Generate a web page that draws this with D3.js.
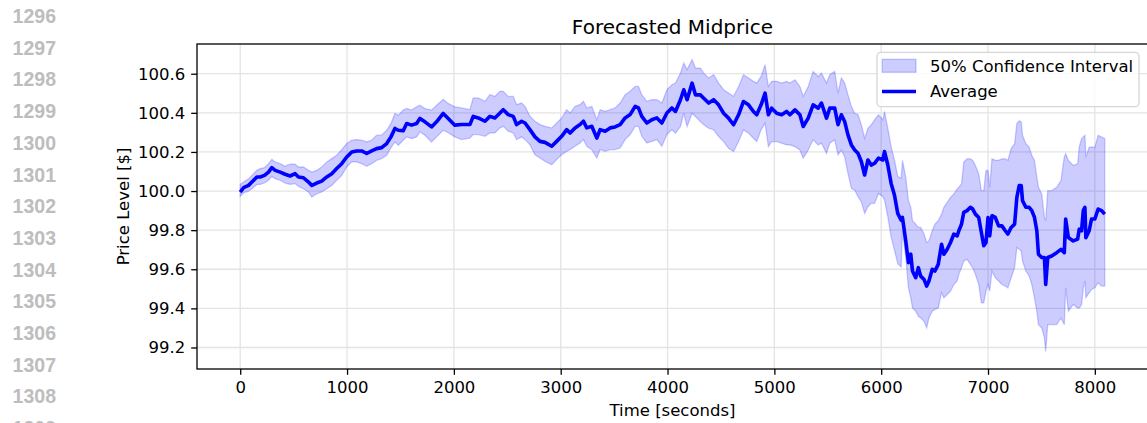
<!DOCTYPE html>
<html>
<head>
<meta charset="utf-8">
<script src="https://cdn.jsdelivr.net/npm/d3@7"></script>
<style>
  body { margin: 0; background: #fff; }
  svg { display: block; }
</style>
</head>
<body>
<script>
// editor gutter shown left of the figure
const gutterLabels = ['1296', '1297', '1298', '1299', '1300', '1301', '1302', '1303', '1304', '1305', '1306', '1307', '1308', '1309']

const xTicks = [0, 1000, 2000, 3000, 4000, 5000, 6000, 7000, 8000]
const yTicks = [99.2, 99.4, 99.6, 99.8, 100.0, 100.2, 100.4, 100.6]
const yLimits = [99.09, 100.752]

// time in seconds
const time = [
  0, 31, 78, 109, 156, 187, 227, 265, 296, 327, 374, 420, 467, 514, 545, 592, 639, 670, 716, 763,
  810, 857, 903, 950, 997, 1044, 1090, 1137, 1184, 1230, 1277, 1324, 1371, 1411, 1448, 1480, 1526, 1558, 1604, 1651,
  1682, 1729, 1791, 1838, 1900, 1947, 2009, 2072, 2150, 2181, 2228, 2291, 2337, 2384, 2431, 2462, 2509, 2556, 2587, 2634,
  2666, 2712, 2759, 2806, 2853, 2916, 2962, 3009, 3056, 3088, 3134, 3181, 3213, 3244, 3291, 3338, 3369, 3416, 3463, 3509,
  3556, 3603, 3650, 3697, 3728, 3759, 3806, 3853, 3900, 3947, 3994, 4041, 4074, 4121, 4152, 4183, 4230, 4261, 4307, 4339,
  4385, 4432, 4478, 4525, 4571, 4618, 4665, 4711, 4758, 4804, 4835, 4876, 4913, 4944, 4975, 5022, 5068, 5115, 5146, 5193,
  5239, 5270, 5317, 5363, 5410, 5441, 5488, 5519, 5565, 5596, 5627, 5658, 5689, 5721, 5752, 5783, 5814, 5845, 5876, 5907,
  5938, 5975, 6016, 6031, 6062, 6093, 6124, 6155, 6187, 6199, 6230, 6255, 6277, 6293, 6323, 6348, 6370, 6401, 6426, 6447,
  6478, 6503, 6534, 6565, 6587, 6618, 6649, 6680, 6711, 6727, 6752, 6773, 6804, 6835, 6857, 6882, 6913, 6938, 6960, 6981,
  7000, 7016, 7037, 7068, 7099, 7130, 7162, 7186, 7217, 7249, 7270, 7292, 7311, 7323, 7354, 7385, 7410, 7435, 7457, 7472,
  7503, 7528, 7540, 7559, 7596, 7643, 7683, 7714, 7727, 7752, 7798, 7839, 7854, 7876, 7892, 7907, 7916, 7947, 7969, 8000,
  8031, 8062, 8093
]

const avgPrice = [
  99.995, 100.017, 100.029, 100.046, 100.072, 100.072, 100.080, 100.097, 100.120, 100.106, 100.097, 100.086, 100.077, 100.089, 100.072, 100.068, 100.046, 100.029, 100.041, 100.051,
  100.072, 100.089, 100.115, 100.140, 100.174, 100.200, 100.205, 100.205, 100.192, 100.205, 100.217, 100.222, 100.243, 100.277, 100.320, 100.311, 100.308, 100.345, 100.337, 100.345,
  100.371, 100.354, 100.328, 100.354, 100.397, 100.371, 100.337, 100.340, 100.340, 100.382, 100.374, 100.357, 100.382, 100.374, 100.399, 100.416, 100.391, 100.382, 100.340, 100.357,
  100.348, 100.314, 100.277, 100.254, 100.249, 100.229, 100.254, 100.280, 100.314, 100.297, 100.323, 100.340, 100.357, 100.323, 100.331, 100.271, 100.314, 100.306, 100.323, 100.328,
  100.340, 100.374, 100.391, 100.433, 100.425, 100.382, 100.348, 100.365, 100.374, 100.348, 100.399, 100.425, 100.407, 100.467, 100.518, 100.467, 100.552, 100.492, 100.492, 100.475,
  100.450, 100.467, 100.441, 100.398, 100.373, 100.339, 100.390, 100.458, 100.441, 100.407, 100.390, 100.441, 100.501, 100.390, 100.424, 100.398, 100.390, 100.407, 100.390, 100.415,
  100.390, 100.330, 100.373, 100.441, 100.424, 100.450, 100.373, 100.424, 100.424, 100.339, 100.390, 100.356, 100.287, 100.236, 100.210, 100.193, 100.151, 100.082, 100.159, 100.133,
  100.142, 100.168, 100.159, 100.202, 100.133, 100.039, 99.980, 99.886, 99.851, 99.865, 99.745, 99.634, 99.677, 99.591, 99.557, 99.608, 99.565, 99.548, 99.514, 99.540,
  99.600, 99.591, 99.625, 99.728, 99.677, 99.702, 99.737, 99.780, 99.771, 99.797, 99.831, 99.891, 99.900, 99.917, 99.908, 99.882, 99.865, 99.788, 99.720, 99.737,
  99.865, 99.771, 99.874, 99.865, 99.822, 99.822, 99.797, 99.780, 99.814, 99.831, 99.968, 100.028, 100.028, 99.951, 99.917, 99.917, 99.900, 99.865, 99.797, 99.677,
  99.660, 99.660, 99.522, 99.660, 99.668, 99.685, 99.702, 99.685, 99.857, 99.762, 99.745, 99.754, 99.805, 99.797, 99.900, 99.917, 99.762, 99.797, 99.857, 99.857,
  99.908, 99.900, 99.882
]

const upperBand = [
  100.034, 100.046, 100.063, 100.080, 100.106, 100.115, 100.120, 100.140, 100.162, 100.149, 100.140, 100.127, 100.137, 100.137, 100.123, 100.123, 100.106, 100.097, 100.106, 100.123,
  100.149, 100.166, 100.183, 100.212, 100.243, 100.260, 100.263, 100.260, 100.251, 100.260, 100.286, 100.286, 100.311, 100.345, 100.397, 100.388, 100.414, 100.422, 100.414, 100.431,
  100.439, 100.422, 100.414, 100.439, 100.469, 100.448, 100.431, 100.425, 100.416, 100.476, 100.476, 100.459, 100.493, 100.484, 100.510, 100.510, 100.484, 100.484, 100.442, 100.450,
  100.433, 100.382, 100.357, 100.340, 100.331, 100.323, 100.348, 100.374, 100.416, 100.399, 100.433, 100.442, 100.459, 100.425, 100.433, 100.365, 100.416, 100.408, 100.416, 100.425,
  100.450, 100.493, 100.510, 100.535, 100.535, 100.493, 100.459, 100.467, 100.467, 100.450, 100.518, 100.544, 100.552, 100.603, 100.655, 100.621, 100.672, 100.629, 100.629, 100.603,
  100.578, 100.595, 100.552, 100.518, 100.501, 100.484, 100.535, 100.595, 100.578, 100.561, 100.552, 100.586, 100.646, 100.535, 100.561, 100.561, 100.552, 100.561, 100.552, 100.569,
  100.535, 100.484, 100.535, 100.612, 100.586, 100.603, 100.552, 100.595, 100.612, 100.501, 100.578, 100.552, 100.492, 100.433, 100.398, 100.390, 100.339, 100.270, 100.321, 100.339,
  100.364, 100.390, 100.364, 100.407, 100.321, 100.227, 100.159, 100.074, 100.065, 100.157, 100.071, 99.951, 99.917, 99.848, 99.831, 99.814, 99.814, 99.780, 99.737, 99.745,
  99.797, 99.831, 99.848, 99.882, 99.917, 99.942, 99.968, 99.985, 100.011, 100.019, 100.037, 100.148, 100.165, 100.165, 100.157, 100.131, 100.088, 100.002, 100.002, 100.105,
  100.105, 100.019, 100.165, 100.157, 100.157, 100.165, 100.165, 100.157, 100.217, 100.242, 100.345, 100.359, 100.354, 100.285, 100.242, 100.225, 100.182, 100.157, 100.071, 100.019,
  99.985, 99.865, 99.848, 100.002, 100.002, 100.019, 100.054, 100.174, 100.191, 100.157, 100.131, 100.139, 100.225, 100.268, 100.277, 100.285, 100.174, 100.225, 100.225, 100.225,
  100.285, 100.277, 100.268
]

const lowerBand = [
  99.973, 99.990, 100.000, 100.012, 100.034, 100.034, 100.041, 100.055, 100.075, 100.063, 100.055, 100.041, 100.034, 100.038, 100.024, 100.012, 99.995, 99.969, 99.986, 99.995,
  100.012, 100.029, 100.055, 100.080, 100.123, 100.149, 100.149, 100.140, 100.127, 100.140, 100.157, 100.166, 100.183, 100.222, 100.251, 100.234, 100.260, 100.277, 100.268, 100.277,
  100.303, 100.286, 100.251, 100.277, 100.311, 100.298, 100.277, 100.263, 100.271, 100.289, 100.289, 100.280, 100.297, 100.297, 100.323, 100.331, 100.306, 100.297, 100.263, 100.277,
  100.263, 100.237, 100.186, 100.169, 100.152, 100.135, 100.161, 100.186, 100.203, 100.212, 100.229, 100.246, 100.263, 100.229, 100.212, 100.169, 100.212, 100.203, 100.212, 100.212,
  100.220, 100.263, 100.289, 100.331, 100.331, 100.280, 100.246, 100.254, 100.263, 100.229, 100.289, 100.314, 100.296, 100.330, 100.398, 100.330, 100.398, 100.381, 100.356, 100.339,
  100.321, 100.313, 100.279, 100.253, 100.219, 100.202, 100.253, 100.313, 100.296, 100.270, 100.253, 100.313, 100.347, 100.227, 100.253, 100.253, 100.245, 100.236, 100.236, 100.227,
  100.210, 100.168, 100.210, 100.262, 100.236, 100.245, 100.193, 100.245, 100.262, 100.185, 100.210, 100.176, 100.091, 100.014, 100.005, 99.971, 99.945, 99.886, 99.920, 99.937,
  99.937, 99.988, 99.971, 99.954, 99.869, 99.766, 99.698, 99.629, 99.612, 99.797, 99.660, 99.505, 99.454, 99.402, 99.385, 99.360, 99.351, 99.334, 99.300, 99.351,
  99.385, 99.394, 99.402, 99.480, 99.454, 99.471, 99.488, 99.522, 99.540, 99.574, 99.608, 99.642, 99.651, 99.625, 99.608, 99.574, 99.522, 99.428, 99.428, 99.488,
  99.522, 99.488, 99.591, 99.557, 99.540, 99.522, 99.514, 99.505, 99.557, 99.608, 99.711, 99.702, 99.694, 99.642, 99.591, 99.565, 99.522, 99.454, 99.385, 99.317,
  99.300, 99.248, 99.180, 99.317, 99.317, 99.317, 99.351, 99.317, 99.505, 99.385, 99.420, 99.402, 99.402, 99.420, 99.505, 99.540, 99.454, 99.480, 99.497, 99.505,
  99.531, 99.514, 99.514
]

const rows = time.map((t, i) => ({ t: t, avg: avgPrice[i], hi: upperBand[i], lo: lowerBand[i] }))

const width = 1147
const height = 423
const plotL = 197, plotR = 1148, plotT = 44, plotB = 369
const font = 'DejaVu Sans, sans-serif'

const svg = d3.create('svg')
  .attr('width', width)
  .attr('height', height)
  .style('background', '#fff')

// gutter numbers (the last one is only a sliver at the bottom edge, as in the screenshot)
svg.append('g')
  .selectAll('text')
  .data(gutterLabels)
  .join('text')
  .attr('x', 56)
  .attr('y', (d, i) => 16 + i * 31.7)
  .attr('dy', '0.36em')
  .attr('text-anchor', 'end')
  .attr('font-family', 'Liberation Sans, Arial, sans-serif')
  .attr('font-weight', 'bold')
  .attr('font-size', 19.5)
  .attr('fill', '#bdbdbd')
  .text(d => d)

const tPad = (d3.max(time) - d3.min(time)) * 0.05
const x = d3.scaleLinear().domain([d3.min(time) - tPad, d3.max(time) + tPad]).range([plotL, plotR])
const y = d3.scaleLinear().domain(yLimits).range([plotB, plotT])

// grid
const grid = svg.append('g').attr('stroke', '#e4e4e4').attr('stroke-width', 1.3)
grid.selectAll('.gx').data(xTicks).join('line')
  .attr('x1', d => x(d)).attr('x2', d => x(d))
  .attr('y1', plotT).attr('y2', plotB)
grid.selectAll('.gy').data(yTicks).join('line')
  .attr('x1', plotL).attr('x2', plotR)
  .attr('y1', d => y(d)).attr('y2', d => y(d))

svg.append('clipPath').attr('id', 'plotclip')
  .append('rect').attr('x', plotL).attr('y', plotT).attr('width', plotR - plotL).attr('height', plotB - plotT)

const plot = svg.append('g').attr('clip-path', 'url(#plotclip)')

const band = d3.area()
  .x(d => x(d.t))
  .y0(d => y(d.lo))
  .y1(d => y(d.hi))

plot.append('path')
  .datum(rows)
  .attr('d', band)
  .attr('fill', 'blue')
  .attr('fill-opacity', 0.2)
  .attr('stroke', 'blue')
  .attr('stroke-opacity', 0.2)
  .attr('stroke-width', 1.3)

const avgLine = d3.line()
  .x(d => x(d.t))
  .y(d => y(d.avg))

plot.append('path')
  .datum(rows)
  .attr('d', avgLine)
  .attr('fill', 'none')
  .attr('stroke', 'blue')
  .attr('stroke-width', 3.6)
  .attr('stroke-linejoin', 'round')

// axes
const xAxis = svg.append('g')
  .attr('transform', `translate(0,${plotB})`)
  .call(d3.axisBottom(x).tickValues(xTicks).tickFormat(d3.format('d')).tickSize(5.8).tickPadding(6.5))
xAxis.select('.domain').remove()

const yAxis = svg.append('g')
  .attr('transform', `translate(${plotL},0)`)
  .call(d3.axisLeft(y).tickValues(yTicks).tickFormat(d3.format('.1f')).tickSize(5.8).tickPadding(6))
yAxis.select('.domain').remove()

svg.selectAll('.tick line').attr('stroke', '#000').attr('stroke-width', 1.3)
svg.selectAll('.tick text')
  .attr('font-family', font)
  .attr('font-size', 16.5)
  .attr('fill', '#000')

// spines
svg.append('rect')
  .attr('x', plotL).attr('y', plotT)
  .attr('width', plotR - plotL).attr('height', plotB - plotT)
  .attr('fill', 'none')
  .attr('stroke', '#000')
  .attr('stroke-width', 1.3)

// titles
svg.append('text')
  .attr('x', (plotL + plotR) / 2)
  .attr('y', 34)
  .attr('text-anchor', 'middle')
  .attr('font-family', font)
  .attr('font-size', 20)
  .text('Forecasted Midprice')

svg.append('text')
  .attr('x', (plotL + plotR) / 2)
  .attr('y', 416)
  .attr('text-anchor', 'middle')
  .attr('font-family', font)
  .attr('font-size', 16.5)
  .text('Time [seconds]')

svg.append('text')
  .attr('transform', `translate(129,${(plotT + plotB) / 2}) rotate(-90)`)
  .attr('text-anchor', 'middle')
  .attr('font-family', font)
  .attr('font-size', 16.5)
  .text('Price Level [$]')

// legend
const legend = svg.append('g')
legend.append('rect')
  .attr('x', 877).attr('y', 52.3)
  .attr('width', 262).attr('height', 54.4)
  .attr('rx', 4)
  .attr('fill', '#fff').attr('fill-opacity', 0.8)
  .attr('stroke', '#d6d6d6').attr('stroke-width', 1.3)
legend.append('rect')
  .attr('x', 882.3).attr('y', 59.3)
  .attr('width', 33.7).attr('height', 13)
  .attr('fill', 'blue').attr('fill-opacity', 0.2)
  .attr('stroke', 'blue').attr('stroke-opacity', 0.2).attr('stroke-width', 1.3)
legend.append('line')
  .attr('x1', 882).attr('x2', 916)
  .attr('y1', 91.5).attr('y2', 91.5)
  .attr('stroke', 'blue').attr('stroke-width', 3.6)
legend.selectAll('.lt')
  .data(['50% Confidence Interval', 'Average'])
  .join('text')
  .attr('x', 930)
  .attr('y', (d, i) => [72, 96.5][i])
  .attr('font-family', font)
  .attr('font-size', 16.5)
  .text(d => d)

document.body.appendChild(svg.node())
</script>
</body>
</html>
